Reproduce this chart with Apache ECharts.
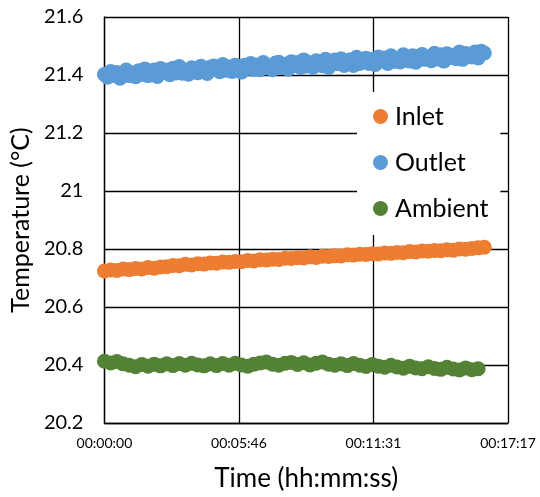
<!DOCTYPE html>
<html>
<head>
<meta charset="utf-8">
<script src="https://cdn.jsdelivr.net/npm/echarts@6/dist/echarts.min.js"></script>
<style>
  html, body { margin: 0; padding: 0; background: #fff; }
  #chart { width: 540px; height: 497px; }
</style>
</head>
<body>
<div id="chart"></div>
<script>
// time in seconds since start (inlet / ambient logged every 16 s)
var times = [0,16,32,48,64,80,96,112,128,144,160,176,192,208,224,240,256,272,288,304,
  320,336,352,368,384,400,416,432,448,464,480,496,512,528,544,560,576,592,608,624,
  640,656,672,688,704,720,736,752,768,784,800,816,832,848,864,880,896,912,928,944,
  960,976]

// outlet logged every 8 s
var timesOutlet = [0,8,16,24,32,40,48,56,64,72,80,88,96,104,112,120,128,136,144,152,
  160,168,176,184,192,200,208,216,224,232,240,248,256,264,272,280,288,296,304,312,
  320,328,336,344,352,360,368,376,384,392,400,408,416,424,432,440,448,456,464,472,
  480,488,496,504,512,520,528,536,544,552,560,568,576,584,592,600,608,616,624,632,
  640,648,656,664,672,680,688,696,704,712,720,728,736,744,752,760,768,776,784,792,
  800,808,816,824,832,840,848,856,864,872,880,888,896,904,912,920,928,936,944,952,
  960,968,976]

var inlet = [20.724,20.728,20.726,20.731,20.729,20.733,20.731,20.736,20.734,20.738,
  20.739,20.743,20.742,20.747,20.745,20.749,20.748,20.752,20.751,20.755,
  20.754,20.757,20.756,20.760,20.759,20.763,20.762,20.765,20.764,20.768,
  20.767,20.770,20.769,20.773,20.771,20.775,20.774,20.777,20.776,20.780,
  20.779,20.782,20.781,20.784,20.783,20.786,20.785,20.788,20.787,20.791,
  20.790,20.793,20.792,20.795,20.794,20.797,20.796,20.800,20.799,20.802,
  20.804,20.806]

var outlet = [21.402,21.392,21.412,21.399,21.409,21.389,21.407,21.417,21.398,21.405,
  21.394,21.415,21.402,21.421,21.398,21.412,21.417,21.395,21.422,21.409,
  21.417,21.401,21.423,21.407,21.429,21.406,21.416,21.403,21.425,21.421,
  21.408,21.430,21.414,21.405,21.427,21.431,21.420,21.411,21.436,21.416,
  21.428,21.412,21.434,21.427,21.410,21.434,21.423,21.440,21.419,21.434,
  21.418,21.443,21.425,21.431,21.418,21.441,21.444,21.426,21.436,21.420,
  21.446,21.433,21.443,21.426,21.452,21.431,21.442,21.427,21.449,21.439,
  21.432,21.454,21.426,21.448,21.452,21.439,21.456,21.433,21.447,21.453,
  21.433,21.461,21.440,21.448,21.458,21.440,21.454,21.436,21.462,21.448,
  21.459,21.440,21.466,21.447,21.457,21.445,21.470,21.454,21.448,21.466,
  21.444,21.464,21.471,21.454,21.461,21.449,21.475,21.455,21.470,21.448,
  21.473,21.460,21.468,21.456,21.479,21.454,21.474,21.469,21.462,21.479,
  21.459,21.482,21.476]

var ambient = [20.413,20.407,20.412,20.404,20.399,20.394,20.402,20.396,20.403,20.397,
  20.404,20.398,20.405,20.399,20.406,20.400,20.397,20.404,20.398,20.405,
  20.399,20.406,20.400,20.396,20.403,20.407,20.410,20.403,20.399,20.406,
  20.409,20.402,20.408,20.400,20.406,20.410,20.403,20.399,20.404,20.398,
  20.405,20.399,20.395,20.402,20.396,20.392,20.399,20.393,20.389,20.396,
  20.390,20.387,20.394,20.388,20.385,20.392,20.386,20.383,20.390,20.384,
  20.387]

var seriesNames = ['Inlet', 'Outlet', 'Ambient']
var colors = ['#ED7D31', '#5B9BD5', '#548235']

function pairs(xs, ys) {
  return ys.map(function (y, i) { return [xs[i], y] })
}

function hms(sec) {
  var s = Math.round(sec)
  var h = Math.floor(s / 3600), m = Math.floor((s % 3600) / 60), r = s % 60
  function p(n) { return (n < 10 ? '0' : '') + n }
  return p(h) + ':' + p(m) + ':' + p(r)
}

var font = 'Lato, "Open Sans", sans-serif'
var myChart = echarts.init(document.getElementById('chart'))

var option = {
  animation: false,
  textStyle: { fontFamily: font, color: '#000' },
  grid: { left: 104, right: 32, top: 17, bottom: 70 },
  legend: {
    orient: 'vertical',
    left: 357,
    top: 92,
    padding: [12, 12, 14, 16],
    itemGap: 21,
    itemWidth: 15,
    itemHeight: 15,
    icon: 'circle',
    backgroundColor: '#fff',
    textStyle: { fontFamily: font, fontSize: 25, color: '#000', padding: [0, 0, 0, 2] },
    data: seriesNames
  },
  xAxis: {
    type: 'value',
    min: 0,
    max: 1036.8,
    interval: 345.6,
    name: 'Time (hh:mm:ss)',
    nameLocation: 'middle',
    nameGap: 43,
    nameTextStyle: { fontSize: 26, color: '#000' },
    axisLine: { lineStyle: { color: '#000', width: 1.3 } },
    axisTick: { show: false },
    axisLabel: { fontSize: 14, color: '#000', margin: 13, formatter: hms },
    splitLine: { show: true, lineStyle: { color: '#000', width: 1.3 } }
  },
  yAxis: {
    type: 'value',
    min: 20.2,
    max: 21.6,
    interval: 0.2,
    name: 'Temperature (°C)',
    nameLocation: 'middle',
    nameGap: 69,
    nameTextStyle: { fontSize: 25, color: '#000' },
    axisLine: { show: true, lineStyle: { color: '#000', width: 1.3 } },
    axisTick: { show: false },
    axisLabel: { fontSize: 20, color: '#000', margin: 21 },
    splitLine: { show: true, lineStyle: { color: '#000', width: 1.3 } }
  },
  series: [
    { name: seriesNames[0], type: 'scatter', data: pairs(times, inlet), symbolSize: 15, itemStyle: { color: colors[0], opacity: 1 } },
    { name: seriesNames[1], type: 'scatter', data: pairs(timesOutlet, outlet), symbolSize: 15, itemStyle: { color: colors[1], opacity: 1 } },
    { name: seriesNames[2], type: 'scatter', data: pairs(times, ambient), symbolSize: 15, itemStyle: { color: colors[2], opacity: 1 } }
  ]
}

myChart.setOption(option)
</script>
</body>
</html>
